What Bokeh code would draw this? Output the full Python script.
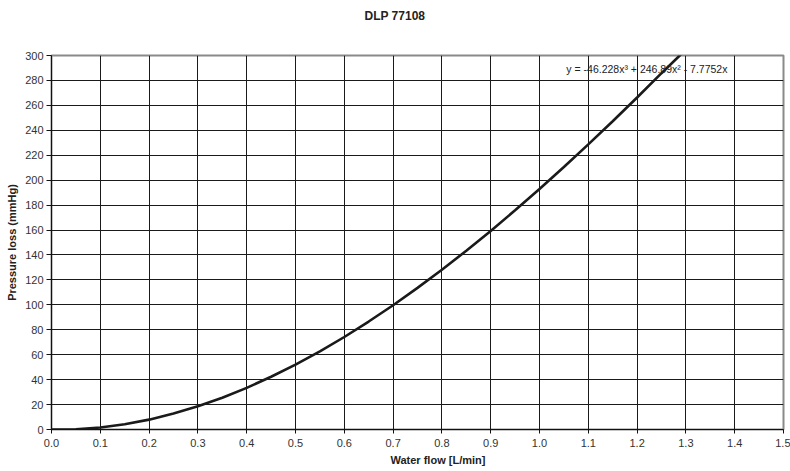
from bokeh.plotting import figure
from bokeh.models import Label, Range1d, FixedTicker, Title
from bokeh.embed import file_html
from bokeh.resources import INLINE

# Data
flow = [0.0, 0.05, 0.1, 0.15, 0.2, 0.25, 0.3, 0.35, 0.4, 0.45, 0.5, 0.55, 0.6,
        0.65, 0.7, 0.75, 0.8, 0.85, 0.9, 0.95, 1.0, 1.05, 1.1, 1.15, 1.2, 1.25, 1.29]
pressure = [0.0, 0.2, 1.6, 4.2, 7.9, 12.8, 18.6, 25.5, 33.4, 42.3, 52.1, 62.7, 74.2,
            86.6, 99.7, 113.6, 128.1, 143.4, 159.3, 175.8, 192.9, 210.5, 228.7, 247.3,
            266.3, 285.8, 301.0]
x_ticks = [round(i * 0.1, 1) for i in range(16)]
y_ticks = list(range(0, 301, 20))
title_text = "DLP 77108"
x_label = "Water flow [L/min]"
y_label = "Pressure loss (mmHg)"
equation = "y = -46.228x\u00b3 + 246.89x\u00b2 - 7.7752x"

FONT = "Liberation Sans"

p = figure(width=790, height=471, output_backend="svg", toolbar_location=None,
           x_range=Range1d(0, 1.5), y_range=Range1d(0, 300),
           min_border_left=51, min_border_right=7, min_border_top=55, min_border_bottom=42)
p.background_fill_color = "white"
p.border_fill_color = "white"
p.outline_line_color = "#8a8a8a"
p.outline_line_width = 2

# spacer panel between frame and title, then the title itself (outermost)
p.add_layout(Title(text=" ", text_font=FONT, text_font_size="14px", standoff=10), "above")
p.add_layout(Title(text=title_text, align="left", offset=313, text_font=FONT,
                   text_font_size="12px", text_font_style="bold", text_color="#222222",
                   standoff=10), "above")

p.line(flow, pressure, line_color="#1a1a1a", line_width=2.6)

for ax, ticks in ((p.xaxis[0], x_ticks), (p.yaxis[0], y_ticks)):
    ax.ticker = FixedTicker(ticks=ticks)
    ax.minor_tick_line_color = None
    ax.axis_line_color = "#111111"
    ax.major_tick_line_color = "#111111"
    ax.major_tick_in = 0
    ax.major_label_text_font = FONT
    ax.major_label_text_font_size = "11px"
    ax.major_label_text_color = "#333333"

p.xaxis.major_tick_out = 4
p.yaxis.major_tick_out = 5
p.xaxis.major_label_overrides = {t: f"{t:.1f}" for t in x_ticks}
p.xaxis.major_label_standoff = 5
p.yaxis.major_label_standoff = 3

p.yaxis.axis_label = y_label
p.yaxis.axis_label_text_font = FONT
p.yaxis.axis_label_text_font_size = "11px"
p.yaxis.axis_label_text_font_style = "bold"
p.yaxis.axis_label_text_color = "#222222"
p.yaxis.axis_label_standoff = 4

for g in (p.xgrid[0], p.ygrid[0]):
    g.grid_line_color = "#1a1a1a"
    g.grid_line_width = 1
    g.grid_line_alpha = 1.0
p.xgrid.ticker = FixedTicker(ticks=x_ticks)
p.ygrid.ticker = FixedTicker(ticks=y_ticks)

# x-axis label as a title below, shifted to match the reference position
p.add_layout(Title(text=x_label, align="left", offset=339, text_font=FONT,
                   text_font_size="11px", text_font_style="bold", text_color="#222222",
                   standoff=4, vertical_align="bottom"), "below")

p.add_layout(Label(x=1.055, y=289, text=equation,
                   text_font=FONT, text_font_size="10.5px",
                   text_color="#222222", text_align="left", text_baseline="middle"))

open("out.html", "w").write(file_html(p, INLINE))
